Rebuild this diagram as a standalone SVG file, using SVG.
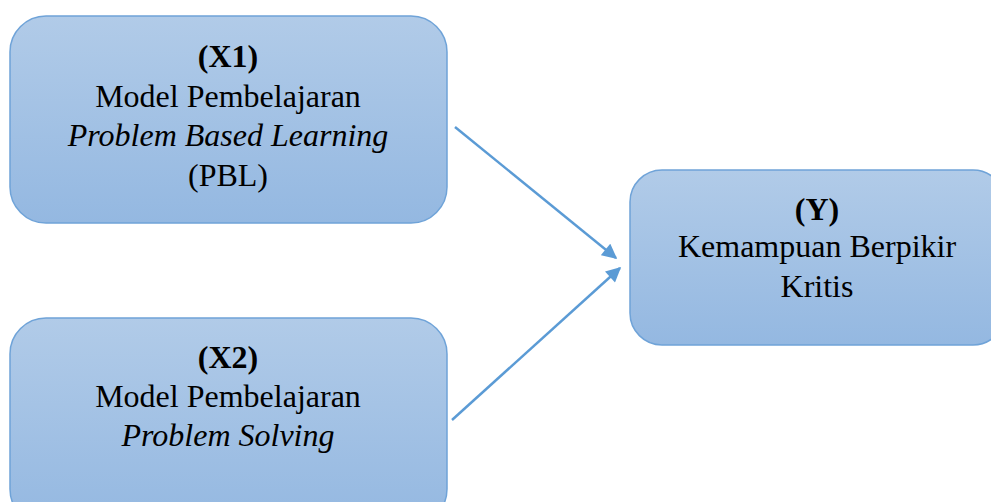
<svg xmlns="http://www.w3.org/2000/svg" width="991" height="502" viewBox="0 0 991 502">
<style>
.box{fill:url(#g);stroke:#6fa3d8;stroke-width:1.5}
.t{font-family:"Liberation Serif","Times New Roman",serif;font-size:32px;fill:#000;text-anchor:middle}
.b{font-weight:bold}
.i{font-style:italic}
.c{stroke:#5b9bd5;stroke-width:2.5;fill:none;marker-end:url(#ah)}
</style>
<defs>
<linearGradient id="g" x1="0" y1="0" x2="0" y2="1">
<stop offset="0" stop-color="#b1cbe8"/>
<stop offset="1" stop-color="#94b8e1"/>
</linearGradient>
<marker id="ah" viewBox="0 0 10 10" refX="9" refY="5" markerWidth="6.5" markerHeight="6" orient="auto" markerUnits="strokeWidth">
<path d="M0,0 L10,5 L0,10 z" fill="#5b9bd5"/>
</marker>
</defs>
<g id="x1">
<rect class="box" x="10" y="16" width="437" height="207" rx="36"/>
<text class="t b" x="228" y="67">(X1)</text>
<text class="t" x="228" y="107">Model Pembelajaran</text>
<text class="t i" x="228" y="146">Problem Based Learning</text>
<text class="t" x="228" y="186">(PBL)</text>
</g>
<g id="x2">
<rect class="box" x="10" y="318" width="437" height="207" rx="36"/>
<text class="t b" x="228" y="368">(X2)</text>
<text class="t" x="228" y="407">Model Pembelajaran</text>
<text class="t i" x="228" y="446">Problem Solving</text>
</g>
<g id="y">
<rect class="box" x="630" y="170" width="375" height="175" rx="32"/>
<text class="t b" x="817" y="220">(Y)</text>
<text class="t" x="817" y="257">Kemampuan Berpikir</text>
<text class="t" x="817" y="297">Kritis</text>
</g>
<g id="connectors">
<line class="c" x1="455" y1="127" x2="616" y2="258"/>
<line class="c" x1="452" y1="420" x2="620" y2="268"/>
</g>
</svg>
